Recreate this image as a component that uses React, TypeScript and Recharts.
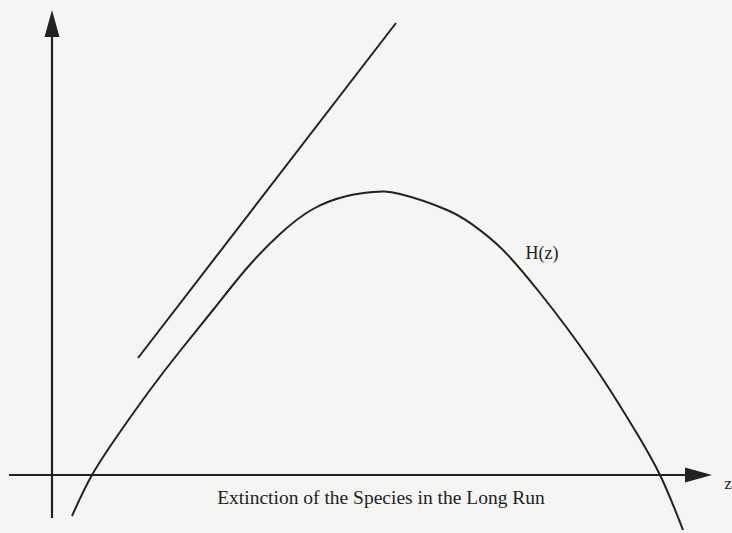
import { LineChart, Line, XAxis, YAxis, ReferenceLine, ReferenceDot, Label } from 'recharts'

// H(z) (z, H)
const curveZ = [0.2, 0.4, 0.68, 0.98, 1.28, 1.61, 1.95, 2.28, 2.61, 2.95, 3.21, 3.48, 3.95, 4.21, 4.51, 4.88, 5.15, 5.38, 5.58, 5.81, 6.08, 6.31]
const curveH = [-0.41, 0, 0.43, 0.85, 1.24, 1.65, 2.07, 2.41, 2.66, 2.79, 2.83, 2.81, 2.65, 2.5, 2.25, 1.82, 1.47, 1.15, 0.85, 0.48, 0, -0.55]

// straight line above the curve
const lineZ = [0.86, 3.44]
const lineH = [1.17, 4.52]

const axisZ = [-0.43, 6.6]
const axisH = [-0.43, 4.65]

const curveData = curveZ.map((z, i) => ({ z, H: curveH[i] }))
const lineData = lineZ.map((z, i) => ({ z, H: lineH[i] }))

const ink = '#222222'
const serif = "'Liberation Serif', 'DejaVu Serif', serif"

function Arrow(props: any) {
  const { x1, y1, x2, y2 } = props
  const dx = x2 - x1
  const dy = y2 - y1
  const len = Math.sqrt(dx * dx + dy * dy) || 1
  const ux = dx / len
  const uy = dy / len
  const hl = 27
  const hw = 7.5
  const bx = x2 - ux * hl
  const by = y2 - uy * hl
  const pts = `${x2},${y2} ${bx - uy * hw},${by + ux * hw} ${bx + uy * hw},${by - ux * hw}`
  return (
    <g>
      <line x1={x1} y1={y1} x2={bx} y2={by} stroke={ink} strokeWidth={2.2} />
      <polygon points={pts} fill={ink} />
    </g>
  )
}

export default function App() {
  return (
    <div style={{ position: 'absolute', left: 0, top: 0, width: 732, height: 533, background: '#f5f5f3' }}>
      <LineChart width={732} height={533} margin={{ top: 0, right: 0, bottom: 0, left: 0 }}>
        <XAxis type="number" dataKey="z" domain={[-0.52, 6.8]} allowDataOverflow hide />
        <YAxis type="number" dataKey="H" domain={[-0.58, 4.75]} allowDataOverflow hide />
        <ReferenceLine
          segment={[{ x: axisZ[0], y: 0 }, { x: axisZ[1], y: 0 }]}
          shape={Arrow}
          ifOverflow="visible"
        />
        <ReferenceLine
          segment={[{ x: 0, y: axisH[0] }, { x: 0, y: axisH[1] }]}
          shape={Arrow}
          ifOverflow="visible"
        />
        <Line
          data={lineData}
          dataKey="H"
          type="linear"
          stroke={ink}
          strokeWidth={2}
          dot={false}
          activeDot={false}
          isAnimationActive={false}
        />
        <Line
          data={curveData}
          dataKey="H"
          type="natural"
          stroke={ink}
          strokeWidth={2}
          dot={false}
          activeDot={false}
          isAnimationActive={false}
        />
        <ReferenceDot x={4.9} y={2.22} r={0} ifOverflow="visible">
          <Label value="H(z)" position="center" fill={ink} fontSize={18} fontFamily={serif} />
        </ReferenceDot>
        <ReferenceDot x={6.76} y={-0.08} r={0} ifOverflow="visible">
          <Label value="z" position="center" fill={ink} fontSize={17} fontFamily={serif} />
        </ReferenceDot>
        <ReferenceDot x={3.29} y={-0.22} r={0} ifOverflow="visible">
          <Label
            value="Extinction of the Species in the Long Run"
            position="center"
            fill={ink}
            fontSize={19.5}
            fontFamily={serif}
          />
        </ReferenceDot>
      </LineChart>
    </div>
  )
}
